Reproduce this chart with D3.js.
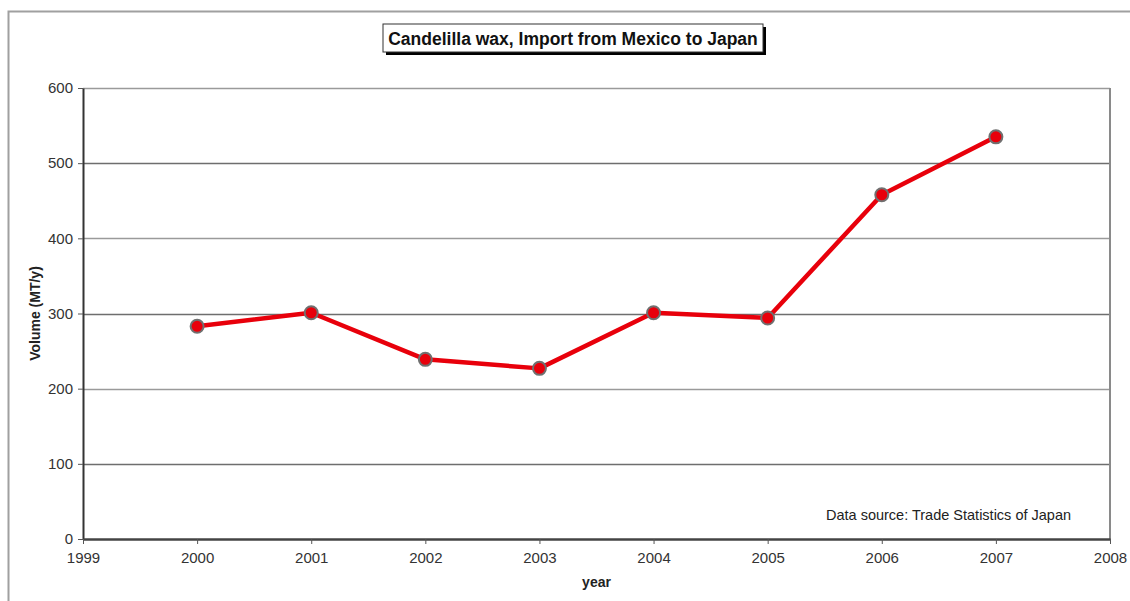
<!DOCTYPE html>
<html>
<head>
<meta charset="utf-8">
<script src="https://cdn.jsdelivr.net/npm/d3@7"></script>
<style>
  body { margin: 0; background: #fff; }
  text { font-family: "Liberation Sans", Arial, sans-serif; }
</style>
</head>
<body>
<div id="chart"></div>
<script>
// data
const years = [2000, 2001, 2002, 2003, 2004, 2005, 2006, 2007];
const volumes = [283, 301, 239, 227, 301, 294, 458, 535];
const yTicks = [0, 100, 200, 300, 400, 500, 600];
const xTicks = [1999, 2000, 2001, 2002, 2003, 2004, 2005, 2006, 2007, 2008];

const width = 1130, height = 601;
const margin = {top: 88, right: 20, bottom: 62, left: 83};

const svg = d3.select("#chart")
    .append("svg")
    .attr("width", width)
    .attr("height", height);

// outer chart frame
svg.append("rect")
    .attr("x", 8.5).attr("y", 11.5)
    .attr("width", 1140).attr("height", 620)
    .attr("fill", "none")
    .attr("stroke", "#a0a0a0")
    .attr("stroke-width", 2);

const x = d3.scaleLinear()
    .domain([1999, 2008])
    .range([margin.left, width - margin.right]);

const y = d3.scaleLinear()
    .domain([0, 600])
    .range([height - margin.bottom, margin.top]);

// gridlines
svg.append("g")
    .selectAll("line")
    .data(yTicks.filter(d => d > 0))
    .join("line")
        .attr("x1", x(1999)).attr("x2", x(2008))
        .attr("y1", d => Math.round(y(d)) + 0.5)
        .attr("y2", d => Math.round(y(d)) + 0.5)
        .attr("stroke", d => (d / 100) % 2 === 1 ? "#6e6e6e" : "#9a9a9a")
        .attr("stroke-width", 1.4);

// right border of plot
svg.append("line")
    .attr("x1", x(2008)).attr("x2", x(2008))
    .attr("y1", y(600)).attr("y2", y(0))
    .attr("stroke", "#8a8a8a")
    .attr("stroke-width", 2);

// axes
const yAxis = svg.append("g")
    .attr("transform", `translate(${x(1999)},0)`)
    .call(d3.axisLeft(y).tickValues(yTicks).tickSize(5).tickPadding(5).tickSizeOuter(0));
yAxis.select(".domain").attr("stroke", "#333").attr("stroke-width", 2);
yAxis.selectAll(".tick line").attr("stroke", "#555");
yAxis.selectAll("text").attr("font-size", 15).attr("fill", "#333")
    .attr("font-family", "Liberation Sans, Arial, sans-serif");

const xAxis = svg.append("g")
    .attr("transform", `translate(0,${y(0)})`)
    .call(d3.axisBottom(x).tickValues(xTicks).tickFormat(d3.format("d")).tickSize(5).tickPadding(8).tickSizeOuter(0));
xAxis.select(".domain").attr("stroke", "#444").attr("stroke-width", 2.5);
xAxis.selectAll(".tick line").attr("stroke", "#555");
xAxis.selectAll("text").attr("font-size", 15).attr("fill", "#333")
    .attr("font-family", "Liberation Sans, Arial, sans-serif");

// axis titles
svg.append("text")
    .attr("x", (x(1999) + x(2008)) / 2)
    .attr("y", 587)
    .attr("text-anchor", "middle")
    .attr("font-size", 14)
    .attr("font-weight", "bold")
    .attr("fill", "#222")
    .text("year");

svg.append("text")
    .attr("transform", `translate(40,${(y(0) + y(600)) / 2}) rotate(-90)`)
    .attr("text-anchor", "middle")
    .attr("font-size", 14)
    .attr("font-weight", "bold")
    .attr("fill", "#222")
    .text("Volume (MT/y)");

// data source note
svg.append("text")
    .attr("x", 826)
    .attr("y", 520)
    .attr("font-size", 14.5)
    .attr("fill", "#222")
    .text("Data source: Trade Statistics of Japan");

// line
const line = d3.line()
    .x((d, i) => x(years[i]))
    .y(d => y(d));

svg.append("path")
    .datum(volumes)
    .attr("fill", "none")
    .attr("stroke", "#e8000b")
    .attr("stroke-width", 4.5)
    .attr("stroke-linejoin", "round")
    .attr("d", line);

svg.append("g")
    .selectAll("circle")
    .data(volumes)
    .join("circle")
        .attr("cx", (d, i) => x(years[i]))
        .attr("cy", d => y(d))
        .attr("r", 6.5)
        .attr("fill", "#e8000b")
        .attr("stroke", "#707070")
        .attr("stroke-width", 2);

// title box with shadow
const tbox = {x: 383, y: 24, w: 380, h: 28};
svg.append("rect")
    .attr("x", tbox.x + 3).attr("y", tbox.y + 3)
    .attr("width", tbox.w).attr("height", tbox.h)
    .attr("fill", "#000");
svg.append("rect")
    .attr("x", tbox.x).attr("y", tbox.y)
    .attr("width", tbox.w).attr("height", tbox.h)
    .attr("fill", "#fff")
    .attr("stroke", "#333")
    .attr("stroke-width", 1);
svg.append("text")
    .attr("x", tbox.x + tbox.w / 2)
    .attr("y", tbox.y + 21)
    .attr("text-anchor", "middle")
    .attr("font-size", 17.5)
    .attr("font-weight", "bold")
    .attr("fill", "#111")
    .text("Candelilla wax, Import from Mexico to Japan");
</script>
</body>
</html>
